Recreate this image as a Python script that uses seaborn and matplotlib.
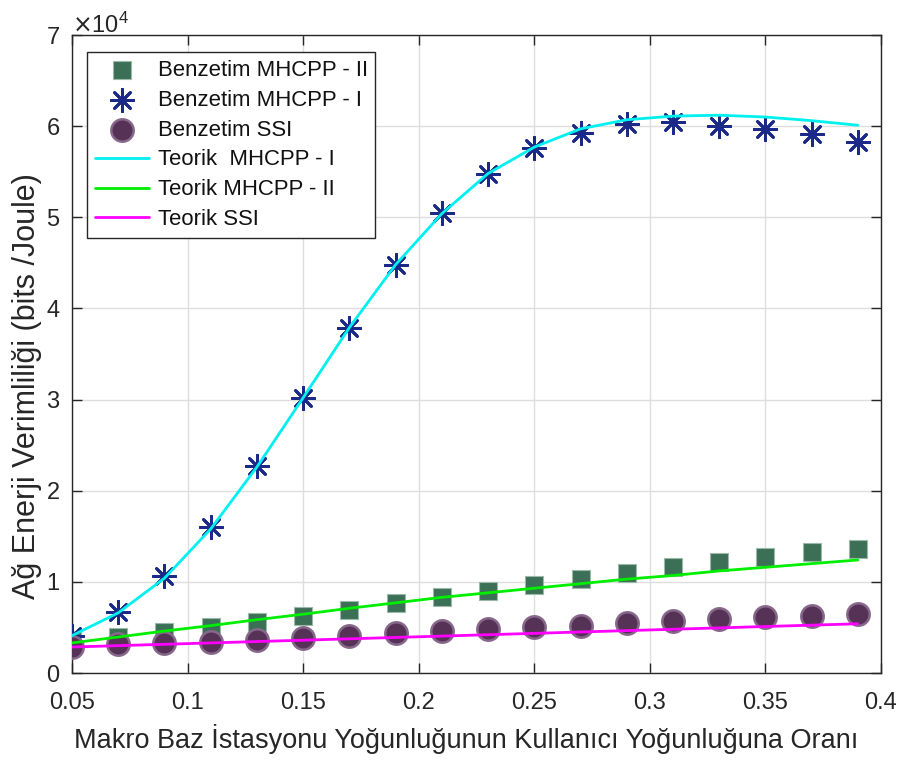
import numpy as np
import pandas as pd
import matplotlib
matplotlib.use("Agg")
import matplotlib.pyplot as plt
import seaborn as sns

# x values: macro base station density / user density ratio
x_vals = [0.05, 0.07, 0.09, 0.11, 0.13, 0.15, 0.17, 0.19, 0.21,
          0.23, 0.25, 0.27, 0.29, 0.31, 0.33, 0.35, 0.37, 0.39]

# simulation results (bits/Joule)
sim_mhcpp2 = [3600, 4000, 4500, 5000, 5600, 6300, 6900, 7700, 8300,
              9000, 9700, 10300, 11000, 11600, 12200, 12700, 13300, 13600]
sim_mhcpp1 = [4100, 6700, 10600, 16000, 22700, 30200, 37900, 44800, 50500,
              54800, 57600, 59300, 60200, 60400, 60000, 59700, 59100, 58300]
sim_ssi = [2850, 3150, 3300, 3400, 3650, 3850, 4100, 4400, 4650,
           4800, 5000, 5200, 5450, 5700, 5900, 6100, 6300, 6450]

# theoretical curves (bits/Joule)
th_mhcpp1 = [4100, 6600, 10400, 15800, 22600, 30200, 37900, 44800, 50400,
             54800, 57700, 59700, 60700, 61100, 61200, 61000, 60600, 60100]
th_mhcpp2 = [3300, 3950, 4600, 5200, 5850, 6450, 7100, 7700, 8300,
             8800, 9300, 9800, 10300, 10700, 11200, 11600, 12000, 12400]
th_ssi = [2850, 3000, 3150, 3300, 3450, 3600, 3750, 3900, 4050,
          4200, 4350, 4500, 4650, 4800, 4950, 5100, 5250, 5400]

x_ticks = [0.05, 0.1, 0.15, 0.2, 0.25, 0.3, 0.35, 0.4]
y_ticks = [0, 10000, 20000, 30000, 40000, 50000, 60000, 70000]
y_tick_labels = ["0", "1", "2", "3", "4", "5", "6", "7"]

df = pd.DataFrame({
    "x": x_vals,
    "sim_mhcpp2": sim_mhcpp2, "sim_mhcpp1": sim_mhcpp1, "sim_ssi": sim_ssi,
    "th_mhcpp1": th_mhcpp1, "th_mhcpp2": th_mhcpp2, "th_ssi": th_ssi,
})

sns.set_style("white")
plt.rcParams["font.family"] = ["Liberation Sans", "DejaVu Sans"]

fig = plt.figure(figsize=(8.97, 7.6), dpi=100)
ax = fig.add_axes([72 / 897, 87 / 760, 809 / 897, 638 / 760])

asterisk = (8, 2, 0)

sns.scatterplot(data=df, x="x", y="sim_mhcpp2", ax=ax, marker="s", s=150,
                color="#3b6f56", edgecolor="#9bb8a8", linewidth=0.8,
                label="Benzetim MHCPP - II", zorder=3)
sns.scatterplot(data=df, x="x", y="sim_mhcpp1", ax=ax, marker=asterisk, s=260,
                color="#1b2a88", linewidth=2.0,
                label="Benzetim MHCPP - I", zorder=3)
sns.scatterplot(data=df, x="x", y="sim_ssi", ax=ax, marker="o", s=260,
                color="#553256", edgecolor="#87688a", linewidth=1.8,
                label="Benzetim SSI", zorder=3)
sns.lineplot(data=df, x="x", y="th_mhcpp1", ax=ax, color="#00f0f0", lw=2.0,
             label="Teorik  MHCPP - I", zorder=4)
sns.lineplot(data=df, x="x", y="th_mhcpp2", ax=ax, color="#00ee00", lw=2.0,
             label="Teorik MHCPP - II", zorder=4)
sns.lineplot(data=df, x="x", y="th_ssi", ax=ax, color="#ff00ff", lw=2.0,
             label="Teorik SSI", zorder=4)

ax.set_xlim(0.05, 0.4)
ax.set_ylim(0, 70000)
ax.set_xticks(x_ticks)
ax.set_xticklabels([f"{t:g}" for t in x_ticks])
ax.set_yticks(y_ticks)
ax.set_yticklabels(y_tick_labels)

ax.grid(True, color="#dedede", lw=1.0)
ax.set_axisbelow(True)
for side in ["left", "right", "top", "bottom"]:
    ax.spines[side].set_visible(True)
    ax.spines[side].set_color("#262626")
    ax.spines[side].set_linewidth(1.0)
ax.tick_params(axis="both", which="both", direction="in", length=7,
               width=1.0, color="#262626", labelsize=17,
               labelcolor="#262626", top=True, right=True,
               bottom=True, left=True)
ax.tick_params(axis="x", pad=14)
ax.tick_params(axis="y", pad=9)

ax.set_xlabel("Makro Baz İstasyonu Yoğunluğunun Kullanıcı Yoğunluğuna Oranı",
              fontsize=19.5, color="#262626")
ax.set_ylabel("Ağ Enerji Verimliliği (bits /Joule)", fontsize=22,
              color="#262626")
ax.xaxis.set_label_coords(0.487, -0.08)
ax.yaxis.set_label_coords(-0.037, 0.45)

ax.text(0.0, 0.996, r"$\times\mathregular{10^4}$", transform=ax.transAxes,
        fontsize=17, color="#262626", ha="left", va="bottom")

leg = ax.legend(loc="upper left", bbox_to_anchor=(0.0185, 0.973),
                borderaxespad=0, fontsize=15.9, frameon=True, fancybox=False,
                edgecolor="#262626", framealpha=1, handlelength=2.45,
                handletextpad=0.4, labelspacing=0.4, borderpad=0.35)
leg.get_frame().set_linewidth(1.0)
for txt in leg.get_texts():
    txt.set_color("#111111")

fig.savefig("out.png", dpi=100)
